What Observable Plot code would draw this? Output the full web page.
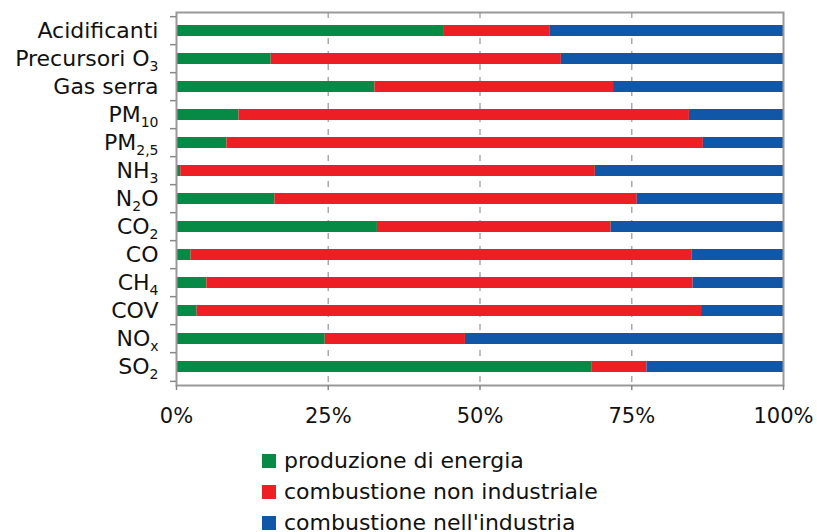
<!DOCTYPE html>
<html>
<head>
<meta charset="utf-8">
<script src="https://cdn.jsdelivr.net/npm/d3@7"></script>
<script src="https://cdn.jsdelivr.net/npm/@observablehq/plot@0.6"></script>
<style>
  body { margin: 0; background: #fff; font-family: "DejaVu Sans", Verdana, sans-serif; color: #111; }
  #wrap { position: relative; width: 817px; height: 532px; overflow: hidden; }
  #legend { position: absolute; left: 262px; top: 445px; font-size: 22px; }
  .row { display: flex; align-items: center; height: 31px; }
  .sw { width: 14px; height: 14px; margin-right: 8px; }
</style>
</head>
<body>
<div id="wrap"><div id="chart"></div><div id="legend"></div></div>
<script>
const categories = ["Acidificanti", "Precursori O_3", "Gas serra", "PM_10", "PM_2,5", "NH_3", "N_2O", "CO_2", "CO", "CH_4", "COV", "NO_x", "SO_2"];
const produzioneEnergia = [44.0, 15.6, 32.7, 10.3, 8.3, 0.7, 16.2, 33.1, 2.4, 5.0, 3.4, 24.5, 68.4];
const combustioneNonIndustriale = [17.5, 47.8, 39.3, 74.2, 78.5, 68.3, 59.7, 38.5, 82.5, 80.1, 83.1, 23.1, 9.1];
const combustioneIndustria = [38.5, 36.6, 28.0, 15.5, 13.2, 31.0, 24.1, 28.4, 15.1, 14.9, 13.5, 52.4, 22.5];
const seriesNames = ["produzione di energia", "combustione non industriale", "combustione nell'industria"];
const seriesColors = ["#078a45", "#ed1e24", "#1057a7"];
const xTicks = [0, 25, 50, 75, 100];
const gridTicks = [25, 50, 75];

const seriesValues = [produzioneEnergia, combustioneNonIndustriale, combustioneIndustria];
const data = categories.flatMap((c, i) => seriesNames.map((s, k) => ({cat: c, source: s, value: seriesValues[k][i]})));

const W = 817, H = 440, mT = 12, mB = 55, mL = 176, mR = 34;
const step = (H - mT - mB) / categories.length;

const chart = Plot.plot({
  width: W, height: H, marginLeft: mL, marginRight: mR, marginTop: mT, marginBottom: mB,
  style: {fontFamily: "DejaVu Sans, Verdana, sans-serif", fontSize: "21px", color: "#111", background: "#fff"},
  x: {domain: [0, 100], label: null},
  y: {domain: categories, paddingInner: 0.59, paddingOuter: 0.295, label: null},
  color: {domain: seriesNames, range: seriesColors},
  marks: [
    Plot.ruleX(gridTicks, {stroke: "#aaa", strokeWidth: 1.5, strokeDasharray: "6,7"}),
    Plot.barX(data, Plot.stackX({y: "cat", x: "value", fill: "source"})),
    Plot.frame({stroke: "#999", strokeWidth: 2}),
    Plot.axisX(xTicks, {tickSize: 5, tickFormat: () => "", stroke: "#888", strokeWidth: 1.5, label: null}),
    Plot.axisX(xTicks, {tickSize: 0, tickPadding: 23, fontSize: 21, tickFormat: d => d + "%", label: null}),
    Plot.axisY({tickSize: 0, tickPadding: 18, fontSize: 22, tickFormat: d => d, label: null}),
    Plot.axisY({tickSize: 6, tickFormat: () => "", dy: -step / 2, stroke: "#888", strokeWidth: 1.5, label: null}),
    Plot.axisY([categories[categories.length - 1]], {tickSize: 6, tickFormat: () => "", dy: step / 2, stroke: "#888", strokeWidth: 1.5, label: null})
  ]
});
document.getElementById("chart").appendChild(chart);

// subscripts in y labels
d3.select(chart).selectAll("text").each(function() {
  const t = this.textContent;
  if (!t.includes("_")) return;
  const m = t.match(/^(.*?)_([0-9,x]+)(.*)$/);
  if (!m) return;
  const el = d3.select(this);
  el.text(null);
  el.append("tspan").text(m[1]);
  el.append("tspan").attr("dy", "5").attr("font-size", "14px").text(m[2]);
  if (m[3]) el.append("tspan").attr("dy", "-5").text(m[3]);
});

// legend
const lg = d3.select("#legend");
seriesNames.forEach((s, i) => {
  const r = lg.append("div").attr("class", "row");
  r.append("div").attr("class", "sw").style("background", seriesColors[i]);
  r.append("span").text(s);
});
</script>
</body>
</html>
